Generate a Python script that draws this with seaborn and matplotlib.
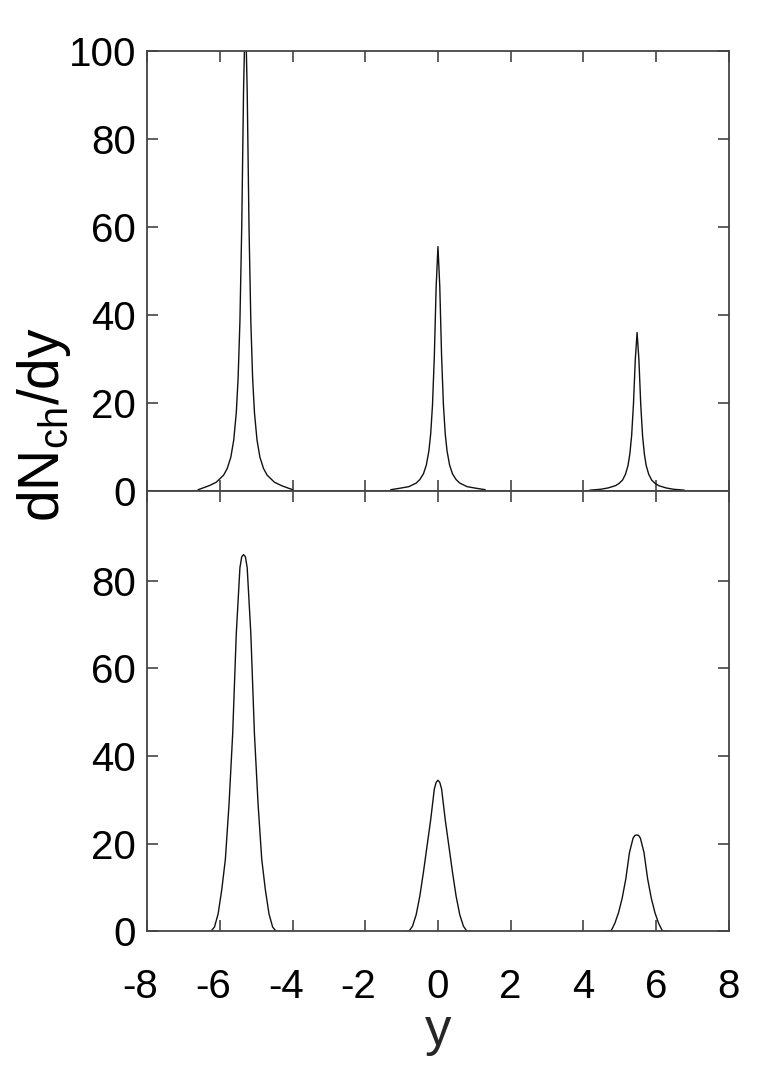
import numpy as np
import pandas as pd
import matplotlib
matplotlib.use("Agg")
import matplotlib.pyplot as plt
import matplotlib.transforms as mtransforms
import seaborn as sns

# DATA
# top panel: narrow peaks, offsets from peak centre
top_centers = [-5.30, 0.0, 5.48]
top_offsets = [-1.3, -1.0, -0.8, -0.6, -0.5, -0.4, -0.32, -0.25, -0.2, -0.15, -0.1, -0.05,
               0.0, 0.05, 0.1, 0.15, 0.2, 0.25, 0.32, 0.4, 0.5, 0.6, 0.8, 1.0, 1.3]
top_peak1 = [0.3, 1.2, 2.0, 3.6, 5.1, 7.7, 11.6, 17.8, 25.6, 38.5, 60, 91,
             110, 91, 60, 38.5, 25.6, 17.8, 11.6, 7.7, 5.1, 3.6, 2.0, 1.2, 0.3]
top_peak2 = [0.3, 0.7, 1.0, 1.8, 2.6, 3.9, 5.9, 9.1, 13, 19.6, 30.6, 46.4,
             55.5, 46.4, 30.6, 19.6, 13, 9.1, 5.9, 3.9, 2.6, 1.8, 1.0, 0.7, 0.3]
top_peak3 = [0.2, 0.4, 0.7, 1.2, 1.7, 2.5, 3.8, 5.8, 8.4, 12.6, 19.7, 29.8,
             36, 29.8, 19.7, 12.6, 8.4, 5.8, 3.8, 2.5, 1.7, 1.2, 0.7, 0.4, 0.2]

# bottom panel: wide peaks
bot_centers = [-5.35, 0.0, 5.47]
bot_offsets = [-0.9, -0.8, -0.7, -0.6, -0.5, -0.4, -0.3, -0.2, -0.1, -0.05,
               0.0, 0.05, 0.1, 0.2, 0.3, 0.4, 0.5, 0.6, 0.7, 0.8, 0.9]
bot_peak1 = [0, 1, 4, 9.5, 16.5, 29, 45, 68, 83, 85.5,
             86, 85.5, 83, 68, 45, 29, 16.5, 9.5, 4, 1, 0]
bot_peak2 = [0, 0, 1.2, 3.8, 8, 13.5, 19.5, 25.5, 32.5, 34,
             34.5, 34, 32.5, 25.5, 19.5, 13.5, 8, 3.8, 1.2, 0, 0]
bot_peak3 = [0, 0, 0.2, 1.9, 4.3, 7.6, 12, 18, 21.3, 21.9,
             22, 21.9, 21.3, 18, 12, 7.6, 4.3, 1.9, 0.2, 0, 0]

x_ticks = [-8, -6, -4, -2, 0, 2, 4, 6, 8]
x_labels = ["-8", "-6", "-4", "-2", "0", "2", "4", "6", "8"]
top_yticks = [0, 20, 40, 60, 80, 100]
bot_yticks = [0, 20, 40, 60, 80]

# CONFIG
sns.set_style("ticks")
plt.rcParams["font.family"] = ["Liberation Sans", "DejaVu Sans"]
plt.rcParams["mathtext.fontset"] = "custom"
plt.rcParams["mathtext.rm"] = "Liberation Sans"
plt.rcParams["mathtext.it"] = "Liberation Sans"
plt.rcParams["axes.unicode_minus"] = False
plt.rcParams["text.color"] = "black"

fig, (ax1, ax2) = plt.subplots(2, 1, sharex=True, figsize=(7.63, 10.78), dpi=100)
fig.subplots_adjust(left=0.193, right=0.955, top=0.953, bottom=0.136, hspace=0)

line_kw = dict(color="#111111", linewidth=1.0)

for c, vals in zip(top_centers, [top_peak1, top_peak2, top_peak3]):
    sns.lineplot(x=np.array(top_offsets) + c, y=vals, ax=ax1, sort=False, **line_kw)
for c, vals in zip(bot_centers, [bot_peak1, bot_peak2, bot_peak3]):
    sns.lineplot(x=np.array(bot_offsets) + c, y=vals, ax=ax2, sort=False, **line_kw)

for ax in (ax1, ax2):
    ax.set_xlim(-8, 8)
    for sp in ax.spines.values():
        sp.set_visible(True)
        sp.set_color("#444444")
        sp.set_linewidth(1.3)
    ax.tick_params(direction="in", length=8, width=1.2, color="#444444",
                   labelcolor="black", top=True, right=True, labelsize=29, pad=8)

ax1.set_ylim(0, 100)
ax1.set_yticks(top_yticks)
ax2.set_ylim(0, 100.5)
ax2.set_yticks(bot_yticks)
ax2.set_xticks(x_ticks, labels=x_labels)
ax2.tick_params(axis="x", pad=26)
ax2.set_xlabel("y", fontsize=38, labelpad=0)

# centre the digit, not the minus sign, under each tick
shift = mtransforms.ScaledTranslation(-5 / 72, 0, fig.dpi_scale_trans)
for lab in ax2.get_xticklabels():
    if lab.get_text().startswith("-"):
        lab.set_transform(lab.get_transform() + shift)

fig.text(0.058, 0.606, r"dN$_{\mathrm{ch}}$/dy", rotation=90, fontsize=41,
         ha="center", va="center")

plt.savefig("out.png", dpi=100)
